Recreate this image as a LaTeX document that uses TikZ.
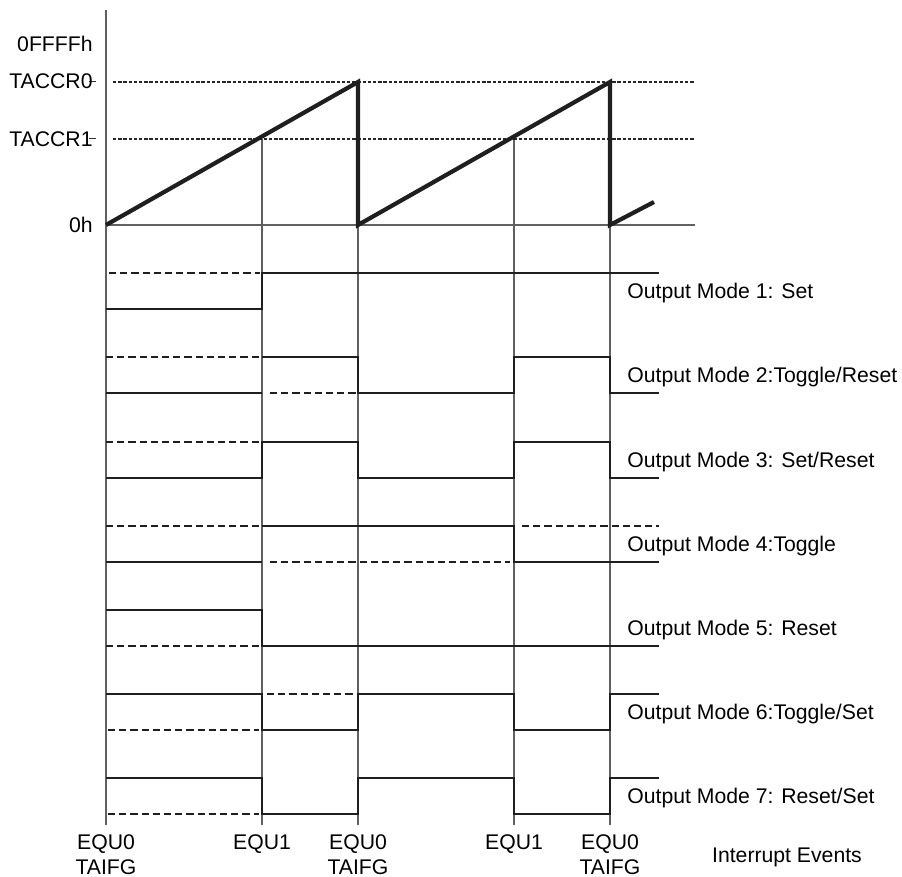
\documentclass[tikz,border=0pt]{standalone}
\usepackage{fontspec}
\setmainfont{Liberation Sans}
\begin{document}
\begin{tikzpicture}[x=0.5pt,y=-0.5pt,
  gridline/.style={draw=black!62,line width=0.65pt},
  refline/.style={draw=black!85,line width=0.55pt,dash pattern=on 1.7pt off 0.9pt},
  rampline/.style={draw=black!88,line width=2.1pt,line join=miter},
  wave/.style={draw=black!88,line width=1.3pt,line join=miter},
  alt/.style={draw=black!88,line width=1.3pt,dash pattern=on 3.6pt off 2pt},
  lbl/.style={inner sep=0pt,font=\fontsize{10.6}{12.7}\selectfont},
  tick/.style={draw=black!80,line width=0.5pt}]
\useasboundingbox (0,0) rectangle (902,877);
% event coordinates
\coordinate (a0) at (106,225);
\coordinate (b1) at (262,139);
\coordinate (b0) at (358,82);
\coordinate (c1) at (514,139);
\coordinate (c0) at (610,82);
% axes and event lines
\draw[gridline] (106,10) -- (106,825);
\draw[gridline] (106,225) -- (695,225);
\draw[gridline] (b1) -- (262,825);
\draw[gridline] (b0) -- (358,825);
\draw[gridline] (c1) -- (514,825);
\draw[gridline] (c0) -- (610,825);
% reference levels
\draw[refline] (113,82) -- (695,82);
\draw[refline] (113,139) -- (695,139);
\draw[tick] (89,82) -- (96,82);
\draw[tick] (89,139) -- (96,139);
% ramp
\draw[rampline] (a0) -- (b0) -- (358,225) -- (c0) -- (610,225) -- (654,202);
% axis labels
\node[lbl,anchor=base east] (lffff) at (93,52) {0FFFFh};
\node[lbl,anchor=base east] (lccr0) at (93,89) {TACCR0};
\node[lbl,anchor=base east] (lccr1) at (93,146.5) {TACCR1};
\node[lbl,anchor=base east] (lzero) at (93,233) {0h};
% Mode 1
\draw[alt] (109,273) -- (260,273);
\draw[wave] (106,309) -- (262,309) -- (262,273) -- (659,273);
% Mode 2
\draw[alt] (106,357) -- (259,357);
\draw[alt] (270,393) -- (356,393);
\draw[wave] (106,393) -- (262,393);
\draw[wave] (262,357) -- (358,357) -- (358,393) -- (514,393) -- (514,357) -- (610,357) -- (610,393) -- (659,393);
% Mode 3
\draw[alt] (106,442) -- (259,442);
\draw[wave] (106,478) -- (262,478) -- (262,442) -- (358,442) -- (358,478) -- (514,478) -- (514,442) -- (610,442) -- (610,478) -- (659,478);
% Mode 4
\draw[alt] (106,526) -- (259,526);
\draw[alt] (270,562) -- (510,562);
\draw[alt] (522,526) -- (659,526);
\draw[wave] (106,562) -- (262,562);
\draw[wave] (262,526) -- (514,526) -- (514,562) -- (659,562);
% Mode 5
\draw[alt] (106,646) -- (259,646);
\draw[wave] (106,610) -- (262,610) -- (262,646) -- (659,646);
% Mode 6
\draw[alt] (108,730) -- (259,730);
\draw[alt] (267,694) -- (356,694);
\draw[wave] (106,694) -- (262,694) -- (262,730) -- (358,730) -- (358,694) -- (514,694) -- (514,730) -- (610,730) -- (610,694) -- (659,694);
% Mode 7
\draw[alt] (108,814) -- (259,814);
\draw[wave] (106,778) -- (262,778) -- (262,814) -- (358,814) -- (358,778) -- (514,778) -- (514,814) -- (610,814) -- (610,778) -- (659,778);
% mode labels
\node[lbl,anchor=base west] (m1) at (627,298.5) {Output Mode 1: Set};
\node[lbl,anchor=base west] (m2) at (627,382.5) {Output Mode 2:Toggle/Reset};
\node[lbl,anchor=base west] (m3) at (627,467.5) {Output Mode 3: Set/Reset};
\node[lbl,anchor=base west] (m4) at (627,551.5) {Output Mode 4:Toggle};
\node[lbl,anchor=base west] (m5) at (627,635.5) {Output Mode 5: Reset};
\node[lbl,anchor=base west] (m6) at (627,719.5) {Output Mode 6:Toggle/Set};
\node[lbl,anchor=base west] (m7) at (627,803.5) {Output Mode 7: Reset/Set};
% event labels
\node[lbl,anchor=base] (e1) at (106,850) {EQU0};
\node[lbl,anchor=base] (t1) at (106,875) {TAIFG};
\node[lbl,anchor=base] (e2) at (262,850) {EQU1};
\node[lbl,anchor=base] (e3) at (358,850) {EQU0};
\node[lbl,anchor=base] (t3) at (358,875) {TAIFG};
\node[lbl,anchor=base] (e4) at (514,850) {EQU1};
\node[lbl,anchor=base] (e5) at (610,850) {EQU0};
\node[lbl,anchor=base] (t5) at (610,875) {TAIFG};
\node[lbl,anchor=base] (ie) at (787,863) {Interrupt Events};
\end{tikzpicture}
\end{document}
